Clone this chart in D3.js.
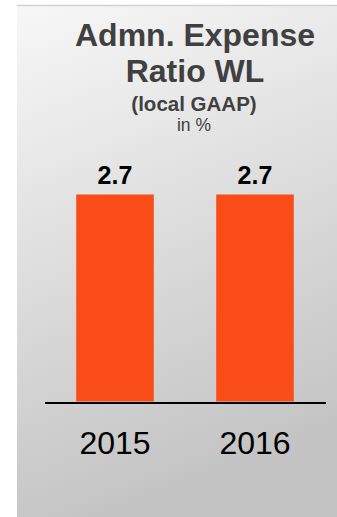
<!DOCTYPE html>
<html>
<head>
<meta charset="utf-8">
<script src="https://cdn.jsdelivr.net/npm/d3@7/dist/d3.min.js"></script>
<style>
  html, body { margin: 0; padding: 0; background: #ffffff; }
  svg { display: block; font-family: "Liberation Sans", Arial, sans-serif; }
</style>
</head>
<body>
<svg id="chart" width="337" height="517"></svg>
<script>
// Administrative expense ratio, life business (local GAAP), in %
const years = ["2015", "2016"];
const ratios = [2.7, 2.7];
const valueLabels = ["2.7", "2.7"];
const titleLines = ["Admn. Expense", "Ratio WL"];
const subtitle = "(local GAAP)";
const unitText = "in %";

const W = 337, H = 517;
const svg = d3.select("#chart");

// panel background with soft vertical gradient
const defs = svg.append("defs");
const grad = defs.append("linearGradient")
  .attr("id", "panelGrad")
  .attr("x1", "0").attr("y1", "0")
  .attr("x2", "0.25").attr("y2", "1");
grad.append("stop").attr("offset", "0%").attr("stop-color", "#f7f7f7");
grad.append("stop").attr("offset", "40%").attr("stop-color", "#e3e3e3");
grad.append("stop").attr("offset", "100%").attr("stop-color", "#c4c4c4");

svg.append("rect")
  .attr("x", 17).attr("y", 5)
  .attr("width", W - 17).attr("height", H - 5)
  .attr("fill", "url(#panelGrad)");
svg.append("line")
  .attr("x1", 17).attr("x2", W)
  .attr("y1", 5.5).attr("y2", 5.5)
  .attr("stroke", "#d2d2d2").attr("stroke-width", 1.5);

// titles
const cx = 195;
svg.append("g").selectAll("text")
  .data(titleLines)
  .join("text")
  .attr("x", cx)
  .attr("y", (d, i) => 45.5 + i * 36.5)
  .attr("text-anchor", "middle")
  .attr("font-size", 32)
  .attr("font-weight", "bold")
  .attr("fill", "#404040")
  .text(d => d);

svg.append("text")
  .attr("x", cx - 1).attr("y", 110.5)
  .attr("text-anchor", "middle")
  .attr("font-size", 20.5)
  .attr("font-weight", "bold")
  .attr("fill", "#404040")
  .text(subtitle);

svg.append("text")
  .attr("x", cx - 1).attr("y", 130.5)
  .attr("text-anchor", "middle")
  .attr("font-size", 17.5)
  .attr("fill", "#404040")
  .text(unitText);

// scales
const x = d3.scaleBand()
  .domain(years)
  .range([45, 325])
  .paddingInner(0.446)
  .paddingOuter(0.223);

const y = d3.scaleLinear()
  .domain([0, 3])
  .range([401.5, 171.5]);

// bars
svg.append("g").selectAll("rect")
  .data(ratios)
  .join("rect")
  .attr("x", (d, i) => x(years[i]))
  .attr("y", d => y(d))
  .attr("width", x.bandwidth())
  .attr("height", d => y(0) - y(d))
  .attr("fill", "#f94c16");

// value labels above bars
svg.append("g").selectAll("text")
  .data(ratios)
  .join("text")
  .attr("x", (d, i) => x(years[i]) + x.bandwidth() / 2)
  .attr("y", d => y(d) - 11)
  .attr("text-anchor", "middle")
  .attr("font-size", 25)
  .attr("font-weight", "bold")
  .attr("fill", "#000000")
  .text((d, i) => valueLabels[i]);

// category axis
const axis = svg.append("g")
  .attr("transform", `translate(0, ${y(0) + 1.5})`)
  .call(d3.axisBottom(x).tickSize(0).tickPadding(0));
axis.select(".domain")
  .attr("d", "M45,0H326")
  .attr("stroke", "#000000")
  .attr("stroke-width", 2);
axis.selectAll(".tick text")
  .attr("y", 0)
  .attr("dy", 0)
  .attr("transform", "translate(0, 51)")
  .attr("font-family", "Liberation Sans, Arial, sans-serif")
  .attr("font-size", 32)
  .attr("fill", "#000000");
</script>
</body>
</html>
